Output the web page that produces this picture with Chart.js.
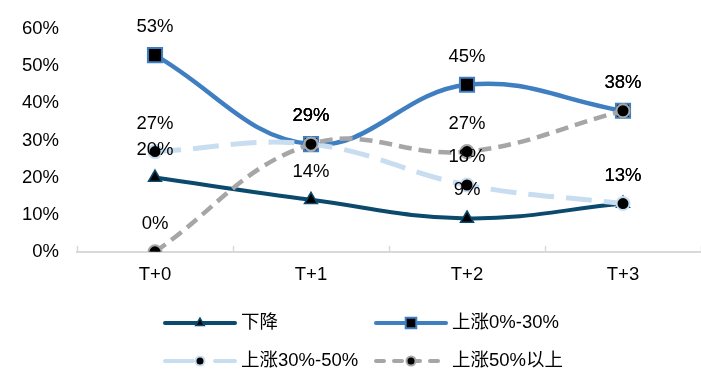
<!DOCTYPE html>
<html>
<head>
<meta charset="utf-8">
<script src="https://cdn.jsdelivr.net/npm/chart.js@4.4.1/dist/chart.umd.min.js"></script>
<style>
  html, body { margin: 0; padding: 0; background: #fff; overflow: hidden; }
  #wrap { width: 701px; height: 374px; position: relative; }
</style>
</head>
<body>
<div id="wrap"><canvas id="c"></canvas></div>
<script>
// Horizons after the event and the share of cases in each outcome bucket (%)
const categories = ['T+0', 'T+1', 'T+2', 'T+3'];
const seriesNames = ['下降', '上涨0%-30%', '上涨30%-50%', '上涨50%以上'];
const fallValues = [20, 14, 9, 13];
const rise0to30Values = [53, 29, 45, 38];
const rise30to50Values = [27, 29, 18, 13];
const rise50plusValues = [0, 29, 27, 38];
const yTickValues = [0, 10, 20, 30, 40, 50, 60];

const FONT = "'Liberation Sans', Arial, 'Noto Sans CJK SC', sans-serif";
const FONT_SIZE = 18.5;
Chart.defaults.font.family = FONT;
Chart.defaults.font.size = FONT_SIZE;
Chart.defaults.color = '#000';

const NAVY = '#0b4a6c';
const BLUE = '#3f7fc1';
const LIGHT = '#c9ddf1';
const GREY = '#a6a6a6';

// Percent labels above every point
const valueLabels = {
  id: 'valueLabels',
  afterDatasetsDraw(chart) {
    const ctx = chart.ctx;
    ctx.save();
    ctx.font = FONT_SIZE + 'px ' + FONT;
    ctx.fillStyle = '#000';
    ctx.textAlign = 'center';
    ctx.textBaseline = 'middle';
    chart.data.datasets.forEach((ds, i) => {
      const meta = chart.getDatasetMeta(i);
      meta.data.forEach((pt, j) => {
        ctx.fillText(ds.data[j] + '%', pt.x, pt.y - 28);
      });
    });
    ctx.restore();
  }
};

// Short upward tick marks at the category boundaries of the x axis
const axisTicks = {
  id: 'axisTicks',
  beforeDatasetsDraw(chart) {
    const xs = chart.scales.x;
    const area = chart.chartArea;
    const n = categories.length;
    const step = (area.right - area.left) / n;
    const ctx = chart.ctx;
    ctx.save();
    ctx.strokeStyle = '#d9d9d9';
    ctx.lineWidth = 1.5;
    for (let i = 0; i <= n; i++) {
      const x = Math.round(xs.getPixelForValue(0) - step / 2 + i * step) + 0.5;
      ctx.beginPath();
      ctx.moveTo(x, area.bottom);
      ctx.lineTo(x, area.bottom - 6);
      ctx.stroke();
    }
    ctx.restore();
  }
};

// Two-column legend with line samples and markers
const gridLegend = {
  id: 'gridLegend',
  afterDraw(chart) {
    const ctx = chart.ctx;
    const colX = [165, 376];
    const rowY = [chart.height - 51, chart.height - 13];
    const sampleLen = 70;
    chart.data.datasets.forEach((ds, i) => {
      const x0 = colX[i % 2];
      const y = rowY[Math.floor(i / 2)];
      ctx.save();
      ctx.strokeStyle = ds.borderColor;
      ctx.lineWidth = ds.legendLineWidth;
      ctx.lineCap = 'round';
      ctx.setLineDash(ds.legendDash || []);
      ctx.beginPath();
      ctx.moveTo(x0, y);
      ctx.lineTo(x0 + sampleLen, y);
      ctx.stroke();
      ctx.setLineDash([]);
      ctx.fillStyle = ds.pointBackgroundColor;
      ctx.strokeStyle = ds.pointBorderColor;
      ctx.lineWidth = ds.pointBorderWidth;
      Chart.helpers.drawPoint(ctx, {
        pointStyle: ds.pointStyle,
        rotation: 0,
        radius: ds.legendPointRadius,
        borderWidth: ds.pointBorderWidth
      }, x0 + sampleLen / 2, y);
      ctx.font = FONT_SIZE + 'px ' + FONT;
      ctx.fillStyle = '#000';
      ctx.textAlign = 'left';
      ctx.textBaseline = 'middle';
      ctx.fillText(ds.label, x0 + sampleLen + 6, y);
      ctx.restore();
    });
  }
};

new Chart(document.getElementById('c'), {
  type: 'line',
  data: {
    labels: categories,
    datasets: [
      {
        label: seriesNames[0], data: fallValues, order: 4,
        borderColor: NAVY, borderWidth: 4, tension: 0.4,
        pointStyle: 'triangle', pointRadius: 7.5,
        pointBackgroundColor: '#000', pointBorderColor: NAVY, pointBorderWidth: 1.5,
        legendLineWidth: 4, legendPointRadius: 5
      },
      {
        label: seriesNames[1], data: rise0to30Values, order: 3,
        borderColor: BLUE, borderWidth: 4.5, tension: 0.4,
        pointStyle: 'rect', pointRadius: 10,
        pointBackgroundColor: '#000', pointBorderColor: BLUE, pointBorderWidth: 2,
        legendLineWidth: 4, legendPointRadius: 7.5
      },
      {
        label: seriesNames[2], data: rise30to50Values, order: 2,
        borderColor: LIGHT, borderWidth: 5, tension: 0.4,
        borderDash: [26, 12], borderCapStyle: 'butt',
        pointStyle: 'circle', pointRadius: 6.5,
        pointBackgroundColor: '#000', pointBorderColor: LIGHT, pointBorderWidth: 2,
        legendLineWidth: 4, legendPointRadius: 4.5, legendDash: [28, 22]
      },
      {
        label: seriesNames[3], data: rise50plusValues, order: 1,
        borderColor: GREY, borderWidth: 4.5, tension: 0.4,
        borderDash: [13, 7], borderCapStyle: 'butt',
        pointStyle: 'circle', pointRadius: 6.5,
        pointBackgroundColor: '#000', pointBorderColor: GREY, pointBorderWidth: 2,
        legendLineWidth: 4, legendPointRadius: 4.5, legendDash: [8, 10]
      }
    ]
  },
  options: {
    responsive: true,
    maintainAspectRatio: false,
    animation: false,
    devicePixelRatio: 1,
    layout: { autoPadding: false, padding: { top: 27, left: 0, right: 0, bottom: 76 } },
    plugins: {
      legend: { display: false },
      tooltip: { enabled: false }
    },
    scales: {
      x: {
        offset: true,
        afterFit(s) { s.paddingLeft = 0; s.paddingRight = 0; },
        grid: { display: true, offset: true, drawOnChartArea: false, drawTicks: false },
        border: { display: true, color: '#d9d9d9', width: 2 },
        ticks: { padding: 12, color: '#000', font: { size: FONT_SIZE } }
      },
      y: {
        min: 0, max: 60,
        afterFit(s) { s.width = 77; },
        afterBuildTicks(s) { s.ticks = yTickValues.map(v => ({ value: v })); },
        grid: { display: false, drawTicks: false },
        border: { display: false },
        ticks: {
          padding: 18, color: '#000', font: { size: FONT_SIZE },
          callback: v => v + '%'
        }
      }
    }
  },
  plugins: [axisTicks, valueLabels, gridLegend]
});
</script>
</body>
</html>
